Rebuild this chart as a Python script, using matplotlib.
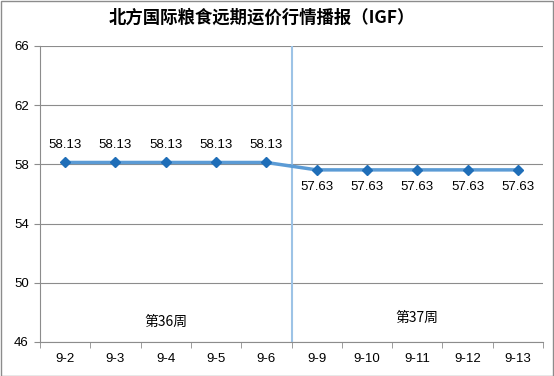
import matplotlib
matplotlib.use("Agg")
import matplotlib.pyplot as plt
from matplotlib.patches import Rectangle

plt.rcParams['font.family'] = ['Liberation Sans', 'Noto Sans CJK SC', 'DejaVu Sans']

dates = ["9-2", "9-3", "9-4", "9-5", "9-6", "9-9", "9-10", "9-11", "9-12", "9-13"]
prices = [58.13, 58.13, 58.13, 58.13, 58.13, 57.63, 57.63, 57.63, 57.63, 57.63]
yticks = [46, 50, 54, 58, 62, 66]
title = "北方国际粮食远期运价行情播报（IGF）"
week_labels = ["第36周", "第37周"]

fig = plt.figure(figsize=(5.54, 3.76), dpi=100)
W, H = 554, 376
ax = fig.add_axes([40 / W, 1 - 342 / H, 503 / W, 296 / H])

x = list(range(len(dates)))
ax.plot(x, prices, color="#5b9bd5", lw=2.5, marker="D", ms=5.5,
        mfc="#1f6eb8", mec="#1f6eb8", zorder=3)
for xi, v in zip(x, prices):
    if xi < 5:
        ax.annotate(f"{v:.2f}", (xi, v), xytext=(0, 8), textcoords="offset points",
                    ha="center", va="bottom", fontsize=9.5)
    else:
        ax.annotate(f"{v:.2f}", (xi, v), xytext=(0, -8), textcoords="offset points",
                    ha="center", va="top", fontsize=9.5)

ax.set_xlim(-0.5, len(dates) - 0.5)
ax.set_ylim(46, 66)
ax.set_yticks(yticks)
ax.set_yticklabels([str(t) for t in yticks], fontsize=9.5)
ax.grid(axis="y", color="#8c8c8c", lw=0.8)
ax.set_axisbelow(True)

ax.set_xticks(x)
ax.set_xticklabels(dates, fontsize=9.5)
ax.tick_params(axis="x", length=0, pad=8)
ax.set_xticks([i - 0.5 for i in range(len(dates) + 1)], minor=True)
ax.tick_params(axis="x", which="minor", length=4, color="#8c8c8c", direction="out")
ax.tick_params(axis="y", length=4, color="#8c8c8c", pad=4)

for s in ["top", "right"]:
    ax.spines[s].set_visible(False)
for s in ["left", "bottom"]:
    ax.spines[s].set_color("#8c8c8c")
    ax.spines[s].set_linewidth(0.8)

ax.axvline(4.5, color="#9dc3e6", lw=1.5, zorder=2)

ax.text(2, 47.35, week_labels[0], ha="center", va="center", fontsize=10,
        family=['Noto Sans CJK SC', 'DejaVu Sans'])
ax.text(7, 47.65, week_labels[1], ha="center", va="center", fontsize=10,
        family=['Noto Sans CJK SC', 'DejaVu Sans'])

fig.text(262 / W, 1 - 18 / H, title, ha="center", va="center", fontsize=12.5,
         fontweight="bold", family=['Noto Sans CJK SC', 'DejaVu Sans'])

fig.patches.append(Rectangle((0.5 / W, 0.5 / H), 1 - 1.5 / W, 1 - 1.5 / H,
                             transform=fig.transFigure, fill=False,
                             ec="#8c8c8c", lw=1))

fig.savefig("out.png", dpi=100)
